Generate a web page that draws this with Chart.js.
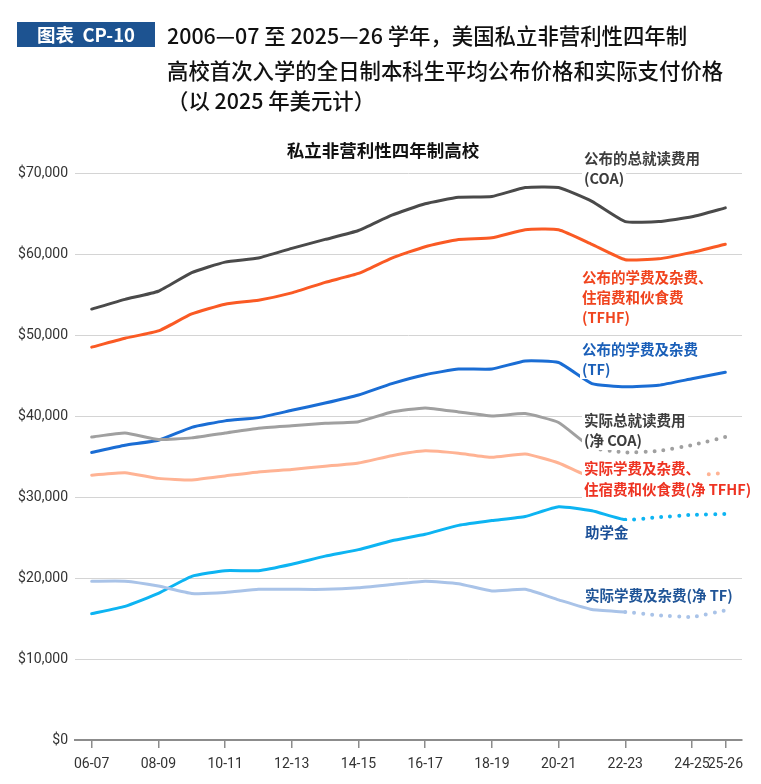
<!DOCTYPE html>
<html>
<head>
<meta charset="utf-8">
<script src="https://cdn.jsdelivr.net/npm/chart.js@4.4.1/dist/chart.umd.min.js"></script>
<style>
  html, body { margin: 0; padding: 0; background: #fff; }
  #wrap { position: relative; width: 761px; height: 784px; overflow: hidden; font-family: "Noto Sans CJK SC", "Noto Sans", sans-serif; }
  #chart { position: absolute; left: 0; top: 0; }
  .tag { position: absolute; left: 17px; top: 22px; width: 138px; height: 25px; background: #1d5391; color: #fff; font-weight: 700; font-size: 18.5px; line-height: 25px; text-align: center; white-space: pre; }
  .ttl { position: absolute; left: 167px; font-size: 21.4px; font-weight: 500; line-height: 30px; color: #111; white-space: nowrap; }
  .sub { position: absolute; left: 383px; top: 138px; transform: translateX(-50%); font-weight: 700; font-size: 17.5px; line-height: 24px; color: #111; white-space: nowrap; }
  .lbl { position: absolute; font-weight: 700; font-size: 14.5px; white-space: nowrap; }
  .lbl span { background: #fff; padding: 0 2px; }
</style>
</head>
<body>
<div id="wrap">
  <canvas id="chart" width="761" height="784"></canvas>

  <div class="tag">图表  CP-10</div>
  <div class="ttl" style="top:20px">2006—07 至 2025—26 学年，美国私立非营利性四年制</div>
  <div class="ttl" style="top:55px">高校首次入学的全日制本科生平均公布价格和实际支付价格</div>
  <div class="ttl" style="top:85px">（以 2025 年美元计）</div>
  <div class="sub">私立非营利性四年制高校</div>

  <div class="lbl" style="left:582px;top:148px;line-height:20px;color:#3d3d3d"><span>公布的总就读费用</span><br><span>(COA)</span></div>
  <div class="lbl" style="left:580px;top:267px;line-height:20px;color:#f0441e"><span>公布的学费及杂费、</span><br><span>住宿费和伙食费</span><br><span>(TFHF)</span></div>
  <div class="lbl" style="left:580px;top:339px;line-height:20px;color:#1a5fb8"><span>公布的学费及杂费</span><br><span>(TF)</span></div>
  <div class="lbl" style="left:582px;top:410px;line-height:20px;color:#3d3d3d"><span>实际总就读费用</span><br><span>(净 COA)</span></div>
  <div class="lbl" style="left:582px;top:457px;line-height:21px;color:#ee3322"><span>实际学费及杂费、</span><br><span>住宿费和伙食费(净 TFHF)</span></div>
  <div class="lbl" style="left:583px;top:522px;line-height:20px;color:#1a4f97"><span>助学金</span></div>
  <div class="lbl" style="left:583px;top:585px;line-height:20px;color:#1f5497"><span>实际学费及杂费(净 TF)</span></div>
</div>

<script>
// academic years, 06-07 .. 25-26
const years = ['06-07', '07-08', '08-09', '09-10', '10-11', '11-12', '12-13', '13-14', '14-15', '15-16',
  '16-17', '17-18', '18-19', '19-20', '20-21', '21-22', '22-23', '23-24', '24-25', '25-26'];

// published prices (2025 dollars)
const coa = [53200, 54400, 55400, 57700, 59000, 59500, 60700, 61800, 62900, 64800,
  66200, 67000, 67100, 68200, 68200, 66500, 64000, 64000, 64600, 65700];
const tfhf = [48500, 49600, 50500, 52600, 53800, 54300, 55200, 56500, 57600, 59500,
  60900, 61800, 62000, 63000, 63000, 61200, 59300, 59400, 60200, 61200];
const tf = [35500, 36400, 37000, 38600, 39400, 39800, 40700, 41600, 42600, 44000,
  45100, 45800, 45800, 46800, 46600, 44000, 43600, 43800, 44600, 45400];

// net prices and grant aid
const netCoa = [37400, 37900, 37100, 37300, 37900, 38500, 38800, 39100, 39300, 40500,
  41000, 40500, 40000, 40300, 39200, 36100, 35500, 35700, 36400, 37400];
const netTfhf = [32700, 33000, 32300, 32100, 32600, 33100, 33400, 33800, 34200, 35100,
  35700, 35400, 34900, 35300, 34200, 32400, 32300, 32400, 32600, 33000];
const grantAid = [15600, 16500, 18100, 20200, 20900, 20900, 21700, 22700, 23500, 24600,
  25400, 26500, 27100, 27600, 28800, 28300, 27200, 27500, 27800, 27900];
const netTf = [19600, 19600, 19000, 18100, 18200, 18600, 18600, 18600, 18800, 19200,
  19600, 19300, 18400, 18600, 17300, 16100, 15800, 15400, 15200, 16000];

// index where the estimated (dotted) part begins
const estFromCoa = 15;
const estFromTfhf = 15;
const estFromGrant = 16;
const estFromTf = 16;

const yTicks = [0, 10000, 20000, 30000, 40000, 50000, 60000, 70000];

const showLabel = i => i % 2 === 0 || i === years.length - 1;

function lineSet(data, color, estFrom) {
  const ds = {
    data: data,
    borderColor: color,
    borderWidth: 3,
    pointRadius: 0,
    tension: 0.15,
    borderCapStyle: 'round',
    borderJoinStyle: 'round',
  };
  if (estFrom != null) {
    ds.segment = {
      borderDash: c => (c.p0DataIndex >= estFrom ? [0, 9] : undefined),
      borderWidth: c => (c.p0DataIndex >= estFrom ? 4 : undefined),
    };
  }
  return ds;
}

const ctx = document.getElementById('chart').getContext('2d');
new Chart(ctx, {
  type: 'line',
  data: {
    labels: years,
    datasets: [
      lineSet(netTf, '#a9c3e8', estFromTf),
      lineSet(grantAid, '#0db4f2', estFromGrant),
      lineSet(netTfhf, '#ffb394', estFromTfhf),
      lineSet(netCoa, '#a0a0a0', estFromCoa),
      lineSet(tf, '#1a6dd4'),
      lineSet(tfhf, '#fa5a24'),
      lineSet(coa, '#4a4a4a'),
    ],
  },
  options: {
    responsive: false,
    animation: false,
    layout: { padding: { top: 173, right: 19, left: 0, bottom: 0 } },
    plugins: { legend: { display: false }, tooltip: { enabled: false } },
    scales: {
      x: {
        offset: true,
        grid: {
          drawOnChartArea: false,
          drawTicks: true,
          tickLength: 8,
          lineWidth: 1.5,
          color: c => (showLabel(c.index) ? '#8c8c8c' : 'rgba(0,0,0,0)'),
        },
        border: { display: true, color: '#8c8c8c', width: 2 },
        ticks: {
          autoSkip: false,
          maxRotation: 0,
          padding: 8,
          color: '#333',
          font: { family: 'Roboto', size: 14 },
          callback: (v, i) => (showLabel(i) ? years[i] : ''),
        },
        afterFit: s => { s.height = 44; },
      },
      y: {
        min: 0,
        max: 70000,
        afterBuildTicks: s => { s.ticks = yTicks.map(v => ({ value: v })); },
        ticks: {
          padding: 7,
          color: '#333',
          font: { family: 'Roboto', size: 14 },
          callback: v => '$' + v.toLocaleString('en-US'),
        },
        grid: {
          drawTicks: false,
          lineWidth: 1,
          color: c => (c.tick && c.tick.value === 0 ? 'rgba(0,0,0,0)' : '#d4d4d4'),
        },
        border: { display: false },
        afterFit: s => { s.width = 75; },
      },
    },
  },
});
</script>
</body>
</html>
